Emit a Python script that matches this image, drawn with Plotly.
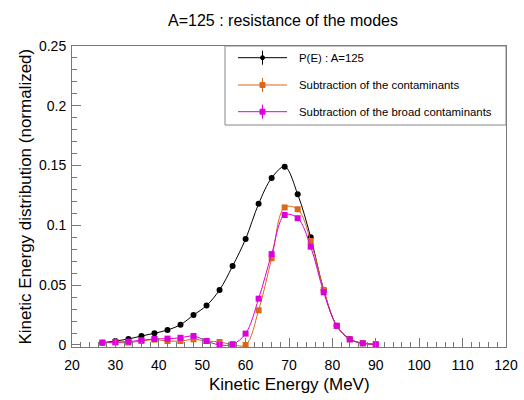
import plotly.graph_objects as go

# ---- data ----
energy = [27, 30, 33, 36, 39, 42, 45, 48, 51, 54, 57, 60, 63, 66, 69, 72, 75, 78, 81, 84, 87, 90]
p_e = [0.0019, 0.0033, 0.0050, 0.0075, 0.0098, 0.0125, 0.0170, 0.0250, 0.0330, 0.0460, 0.0660,
       0.0886, 0.1180, 0.1396, 0.1490, 0.1260, 0.0900, 0.0460, 0.0160, 0.0050, 0.0014, 0.0006]
sub_cont = [0.0019, 0.0020, 0.0020, 0.0033, 0.0045, 0.0033, 0.0033, 0.0047, 0.0033, 0.0025, 0.0003,
            0.0000, 0.0290, 0.0725, 0.1150, 0.1135, 0.0870, 0.0460, 0.0160, 0.0047, 0.0014, 0.0006]
sub_broad = [0.0019, 0.0025, 0.0028, 0.0040, 0.0050, 0.0053, 0.0060, 0.0075, 0.0033, 0.0000, 0.0006,
             0.0095, 0.0387, 0.0760, 0.1087, 0.1060, 0.0822, 0.0440, 0.0160, 0.0047, 0.0014, 0.0004]
names = ["P(E) : A=125", "Subtraction of the contaminants", "Subtraction of the broad contaminants"]
colors = ["#000000", "#d9691c", "#dd00dd"]
symbols = ["circle", "square", "square"]
x_ticks = list(range(20, 121, 10))
y_ticks = [0, 0.05, 0.1, 0.15, 0.2, 0.25]
y_tick_text = ["0", "0.05", "0.1", "0.15", "0.2", "0.25"]

FONT = "Liberation Sans, Arial, Helvetica, sans-serif"
W, H = 524, 400
L, R, T, B = 72, 506, 46, 347

fig = go.Figure()
for ys, name, col, sym in zip([p_e, sub_cont, sub_broad], names, colors, symbols):
    fig.add_trace(go.Scatter(
        x=energy, y=ys, name=name, mode="lines+markers",
        line=dict(color=col, width=1, shape="spline", smoothing=1.0),
        marker=dict(color=col, symbol=sym, size=6),
        showlegend=False))

def px_x(px):
    return (px - L) / (R - L)

def px_y(py):
    return (B - py) / (B - T)

shapes = []
annotations = []
# legend box
shapes.append(dict(type="rect", xref="paper", yref="paper",
                   x0=px_x(225), x1=px_x(R), y0=px_y(125), y1=px_y(T),
                   line=dict(color="#888888", width=1), fillcolor="white", layer="above"))
entry_y = [57.7, 85, 111.7]
for ey, name, col, sym in zip(entry_y, names, colors, symbols):
    shapes.append(dict(type="line", xref="paper", yref="paper",
                       x0=px_x(238), x1=px_x(287), y0=px_y(ey), y1=px_y(ey),
                       line=dict(color=col, width=1), layer="above"))
    shapes.append(dict(type="line", xref="paper", yref="paper",
                       x0=px_x(262.5), x1=px_x(262.5), y0=px_y(ey - 7), y1=px_y(ey + 7),
                       line=dict(color=col, width=1), layer="above"))
    if sym == "circle":
        shapes.append(dict(type="circle", xref="paper", yref="paper",
                           x0=px_x(260.5), x1=px_x(264.5), y0=px_y(ey + 2), y1=px_y(ey - 2),
                           line=dict(color=col, width=1), fillcolor=col, layer="above"))
    else:
        shapes.append(dict(type="rect", xref="paper", yref="paper",
                           x0=px_x(260), x1=px_x(265), y0=px_y(ey + 2.5), y1=px_y(ey - 2.5),
                           line=dict(color=col, width=1), fillcolor=col, layer="above"))
    annotations.append(dict(text=name, xref="paper", yref="paper", x=px_x(297), y=px_y(ey),
                            xanchor="left", yanchor="middle", showarrow=False,
                            font=dict(family=FONT, size=11.4, color="black")))

# axis titles
annotations.append(dict(text="Kinetic Energy (MeV)", xref="paper", yref="paper",
                        x=0.5, y=px_y(384), xanchor="center", yanchor="middle", showarrow=False,
                        font=dict(family=FONT, size=17, color="black")))
annotations.append(dict(text="Kinetic Energy distribution (normalized)", xref="paper", yref="paper",
                        x=px_x(25), y=0.5, xanchor="center", yanchor="middle", showarrow=False,
                        textangle=-90, font=dict(family=FONT, size=17, color="black")))

axis_common = dict(showgrid=False, zeroline=False, showline=True, linecolor="#777777",
                   linewidth=1, mirror=True, ticks="inside", tickcolor="#777777",
                   tickfont=dict(family=FONT, size=14, color="black"))

fig.update_layout(
    width=W, height=H,
    margin=dict(l=L, r=W - R, t=T, b=H - B, autoexpand=False),
    paper_bgcolor="white", plot_bgcolor="white",
    title=dict(text="A=125 : resistance of the modes", x=283 / W, y=1 - 20 / H,
               xanchor="center", yanchor="middle",
               font=dict(family=FONT, size=16, color="black")),
    xaxis=dict(range=[20, 120], tickvals=x_ticks, ticklen=9, ticklabelstandoff=5,
               minor=dict(dtick=2, ticklen=5, ticks="inside", tickcolor="#777777"),
               **axis_common),
    yaxis=dict(range=[-0.0017, 0.25], tickvals=y_ticks, ticktext=y_tick_text, ticklen=9,
               ticklabelstandoff=2,
               minor=dict(dtick=0.01, ticklen=5, ticks="inside", tickcolor="#777777"),
               **axis_common),
    shapes=shapes, annotations=annotations,
)

fig.write_html("out.html", config={"displayModeBar": False},
               post_script="document.body.style.margin='0';document.body.style.overflow='hidden';")
